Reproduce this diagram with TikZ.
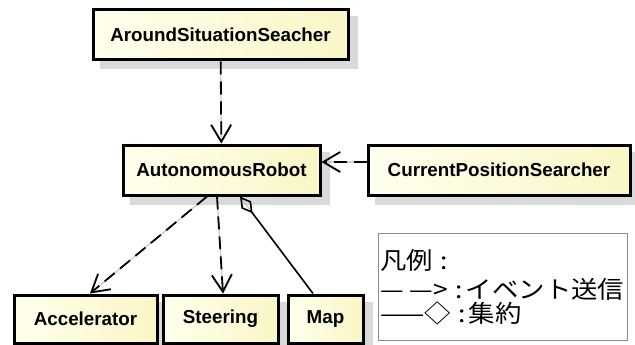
\documentclass[tikz,border=0pt]{standalone}
\usepackage{fontspec}
\setmainfont{Liberation Sans}
\newfontfamily\jpfont{Noto Sans CJK JP}
\usetikzlibrary{arrows.meta,calc}
\pgfdeclarelayer{bg}
\pgfsetlayers{bg,main}
\definecolor{boxA}{HTML}{FFFFEE}
\definecolor{boxB}{HTML}{F9F6C6}
\tikzset{
  cls/.style={draw=black, line width=3pt, left color=boxA, right color=boxB,
    inner sep=0pt, minimum height=50pt,
    font=\bfseries\fontsize{18.8}{20}\selectfont},
  boxshadow/.style={fill=black!15, draw=none},
  vtip/.style={-{Straight Barb[length=17pt,width=20pt,line width=1.8pt]}},
  dep/.style={line width=1.8pt, dash pattern=on 13pt off 7pt, vtip},
  agg/.style={line width=1.6pt, {Diamond[open,length=21pt,width=12pt,line width=1.6pt]}-},
  ghost/.style={draw=black!20, line width=1.3pt},
  ghosttip/.style={-{Straight Barb[length=15pt,width=18pt]}},
  legendtxt/.style={anchor=west, inner sep=0pt, font=\jpfont\fontsize{24}{26}\selectfont}
}
\begin{document}
\begin{tikzpicture}[x=1pt, y=-1pt]
\useasboundingbox (0,0) rectangle (635,345);

% class boxes
\node[cls, minimum width=255pt] (ass) at (220.5,35) {AroundSituationSeacher};
\node[cls, minimum width=197pt] (ar)  at (221.5,170) {AutonomousRobot};
\node[cls, minimum width=262pt] (cps) at (499,170) {CurrentPositionSearcher};
\node[cls, minimum width=143pt, minimum height=48pt] (acc) at (85.5,319) {Accelerator};
\node[cls, minimum width=115pt, minimum height=48pt] (str) at (220.5,319) {Steering};
\node[cls, minimum width=75pt, minimum height=48pt]  (map) at (325.5,319) {Map};

% drop shadows and faint shadow connectors
\begin{pgfonlayer}{bg}
  \foreach \b in {ass,ar,cps,acc,str,map}
    \fill[boxshadow] ([shift={(8pt,-8pt)}]\b.south west) rectangle ([shift={(8pt,-8pt)}]\b.north east);
  \begin{scope}[xshift=8pt, yshift=-3pt]
    \draw[ghost, ghosttip] (ass) -- (ar);
    \draw[ghost, ghosttip] ([yshift=8pt]cps.west) -- ([yshift=8pt]ar.east);
    \draw[ghost, ghosttip] ([xshift=-14.5pt]ar.south) -- ([xshift=4.5pt]acc.north);
    \draw[ghost, ghosttip] ([xshift=-4.5pt]ar.south) -- ([xshift=2.5pt]str.north);
    \draw[ghost] ([xshift=18.5pt]ar.south) -- ([xshift=-12.5pt]map.north);
  \end{scope}
\end{pgfonlayer}

% connectors
\draw[dep] (ass) -- (ar);
\draw[dep] ([yshift=8pt]cps.west) -- ([yshift=8pt]ar.east);
\draw[dep] ([xshift=-14.5pt]ar.south) -- ([xshift=4.5pt]acc.north);
\draw[dep] ([xshift=-4.5pt]ar.south) -- ([xshift=2.5pt]str.north);
\draw[agg] ([xshift=18.5pt]ar.south) -- ([xshift=-12.5pt]map.north);

% legend
\node[draw=black!45, line width=0.8pt, minimum width=249pt, minimum height=107pt, inner sep=0pt] (legend) at (502.5,286.5) {};
\node[legendtxt] (l1) at (380,260) {\scalebox{1.1}[1]{凡例\hspace{0.3em}:}};
\node[legendtxt] (l2) at (380,289) {\scalebox{1.1}[1]{— —>\hspace{0.3em}:\hspace{0.1em}イベント送信}};
\node[legendtxt] (l3) at (380,313) {\scalebox{1.1}[1]{——◇\hspace{0.3em}:\hspace{0.1em}集約}};
\end{tikzpicture}
\end{document}
